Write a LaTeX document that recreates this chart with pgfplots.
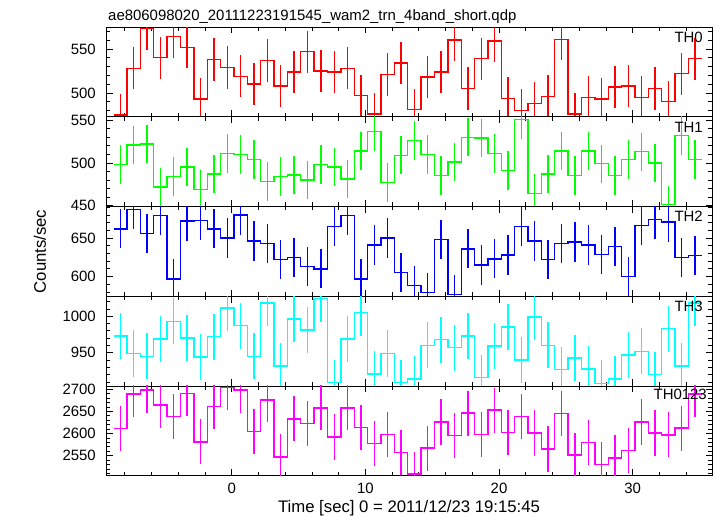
\documentclass[border=0pt]{standalone}
\usepackage{pgfplots}
\pgfplotsset{compat=1.18}
\usepackage{pgfplotstable}
\usepackage{fontspec}
\setmainfont{Liberation Sans}
\newcommand{\fs}{\fontsize{15}{18}\selectfont}
\definecolor{cR}{RGB}{255,0,0}
\definecolor{cG}{RGB}{0,255,0}
\definecolor{cB}{RGB}{0,0,255}
\definecolor{cC}{RGB}{0,255,255}
\definecolor{cM}{RGB}{255,0,255}

% left bin edge, rates (counts/sec); last row repeats the last bin to close the step
\pgfplotstableread{
x      th0  th1  th2  th3   all
-8.83  475  498  662  973   2611
-7.83  528  521  687  949   2689
-6.83  573  522  656  945   2698
-5.83  540  472  679  969   2664
-4.83  564  484  597  993   2638
-3.83  552  495  672  970   2691
-2.83  493  469  673  944   2581
-1.83  538  487  662  972   2661
-0.83  529  511  650  1011  2704
0.17   519  510  680  987   2698
1.17   510  504  646  945   2605
2.17   537  478  643  1018  2676
3.17   508  484  622  932   2547
4.17   524  486  625  996   2633
5.17   547  480  613  981   2622
6.17   525  498  610  1024  2658
7.17   524  495  665  909   2592
8.17   528  481  679  969   2658
9.17   497  514  597  1005  2613
10.17  476  537  641  921   2577
11.17  521  477  650  949   2598
12.17  534  509  605  909   2557
13.17  481  526  588  914   2508
14.17  518  510  579  960   2567
15.17  524  485  648  968   2626
16.17  560  501  577  957   2595
17.17  505  530  636  973   2646
18.17  539  529  615  916   2598
19.17  559  511  623  959   2653
20.17  494  491  628  985   2602
21.17  480  551  665  940   2638
22.17  488  464  646  999   2601
23.17  496  487  622  960   2565
24.17  561  514  643  927   2645
25.17  476  485  645  943   2551
26.17  495  514  641  928   2579
27.17  493  499  629  908   2530
28.17  507  485  639  914   2545
29.17  508  504  600  947   2561
30.17  495  513  666  952   2626
31.17  505  500  674  920   2601
32.17  490  451  671  983   2597
33.17  522  532  625  932   2612
34.17  539  504  627  1018  2689
35.17  539  504  627  1018  2689
}\data

\pgfplotsset{
  panel/.style={
    scale only axis, width=606bp, height=89.74bp,
    anchor=north west,
    xmin=-9.40, xmax=35.93,
    xtick={0,10,20,30}, minor xtick={-8,-6,...,34},
    xticklabels={,,,},
    tick align=inside, xtick pos=both, ytick pos=both,
    major tick length=6.5bp, minor tick length=4bp,
    axis line style={line width=0.9bp},
    tick style={line width=0.7bp, color=black},
    /pgf/number format/assume math mode=true,
    /pgf/number format/1000 sep={},
    tick label style={font=\fs},
    yticklabel style={inner sep=0pt, xshift=-10bp},
    xticklabel style={inner sep=0pt, yshift=-7.3bp},
    clip=true,
  },
}

\begin{document}
\begin{tikzpicture}
\useasboundingbox (-106bp,-489bp) rectangle (611bp,27bp);

% TH0
\begin{axis}[panel, at={(0bp,0bp)}, ymin=473, ymax=575,
  ytick={500,550}, minor ytick={480,490,...,570}]
\addplot[color=cR, const plot mark left, mark=none, line width=1.4bp] table[x=x, y=th0] {\data};
\addplot[color=cR, draw=none, mark=none, restrict x to domain=-9.5:35.5,
  error bars/.cd, y dir=both, y fixed=24, error mark=none,
  error bar style={color=cR, line width=1.4bp}] table[x expr=\thisrow{x}+0.5, y=th0] {\data};
\node[anchor=north east, inner sep=0pt, font=\fs] at (rel axis cs:1,1) [xshift=-9bp, yshift=-4.5bp] {TH0};
\end{axis}

% TH1
\begin{axis}[panel, at={(0bp,-89.74bp)}, ymin=449, ymax=554,
  ytick={450,500,550}, minor ytick={460,470,...,540}]
\addplot[color=cG, const plot mark left, mark=none, line width=1.4bp] table[x=x, y=th1] {\data};
\addplot[color=cG, draw=none, mark=none, restrict x to domain=-9.5:35.5,
  error bars/.cd, y dir=both, y fixed=22.5, error mark=none,
  error bar style={color=cG, line width=1.4bp}] table[x expr=\thisrow{x}+0.5, y=th1] {\data};
\node[anchor=north east, inner sep=0pt, font=\fs] at (rel axis cs:1,1) [xshift=-9bp, yshift=-5bp] {TH1};
\end{axis}

% TH2
\begin{axis}[panel, at={(0bp,-179.48bp)}, ymin=574.4, ymax=691,
  ytick={600,650}, minor ytick={580,590,...,690}]
\addplot[color=cB, const plot mark left, mark=none, line width=1.4bp] table[x=x, y=th2] {\data};
\addplot[color=cB, draw=none, mark=none, restrict x to domain=-9.5:35.5,
  error bars/.cd, y dir=both, y fixed=25.5, error mark=none,
  error bar style={color=cB, line width=1.4bp}] table[x expr=\thisrow{x}+0.5, y=th2] {\data};
\node[anchor=north east, inner sep=0pt, font=\fs] at (rel axis cs:1,1) [xshift=-9bp, yshift=-4bp] {TH2};
\end{axis}

% TH3
\begin{axis}[panel, at={(0bp,-269.22bp)}, ymin=904.6, ymax=1027.3,
  ytick={950,1000}, minor ytick={910,920,...,1020}]
\addplot[color=cC, const plot mark left, mark=none, line width=1.4bp] table[x=x, y=th3] {\data};
\addplot[color=cC, draw=none, mark=none, restrict x to domain=-9.5:35.5,
  error bars/.cd, y dir=both, y fixed=31.5, error mark=none,
  error bar style={color=cC, line width=1.4bp}] table[x expr=\thisrow{x}+0.5, y=th3] {\data};
\node[anchor=north east, inner sep=0pt, font=\fs] at (rel axis cs:1,1) [xshift=-9bp, yshift=-5bp] {TH3};
\end{axis}

% TH0123
\begin{axis}[panel, at={(0bp,-358.96bp)}, ymin=2504.5, ymax=2707.5,
  ytick={2550,2600,2650,2700}, minor ytick={2510,2520,...,2700},
  xticklabels={0,10,20,30}]
\addplot[color=cM, const plot mark left, mark=none, line width=1.4bp] table[x=x, y=all] {\data};
\addplot[color=cM, draw=none, mark=none, restrict x to domain=-9.5:35.5,
  error bars/.cd, y dir=both, y fixed=51, error mark=none,
  error bar style={color=cM, line width=1.4bp}] table[x expr=\thisrow{x}+0.5, y=all] {\data};
\node[anchor=north east, inner sep=0pt, font=\fs] at (rel axis cs:1,1) [xshift=-5bp, yshift=-3.3bp] {TH0123};
\end{axis}

% titles
\node[anchor=base west, inner sep=0pt, font=\fs] at (2bp,7bp) {ae806098020\_20111223191545\_wam2\_trn\_4band\_short.qdp};
\node[anchor=north, inner sep=0pt, font=\fontsize{16.8}{20}\selectfont] at (303bp,-473bp) {Time [sec] 0 = 2011/12/23 19:15:45};
\node[rotate=90, inner sep=0pt, font=\fontsize{16.8}{20}\selectfont] at (-66bp,-224.5bp) {Counts/sec};
\end{tikzpicture}
\end{document}
